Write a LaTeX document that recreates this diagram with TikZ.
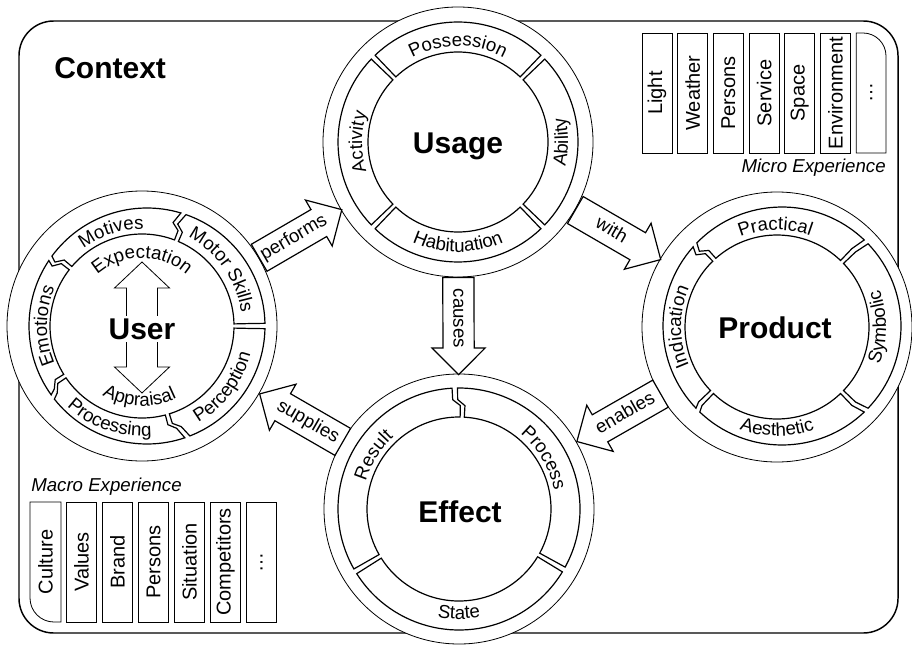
\documentclass[tikz,border=0pt]{standalone}
\usepackage{fontspec}
\setmainfont{Liberation Sans}
\usetikzlibrary{calc,shapes.arrows,decorations.text}

\newcommand{\segfont}{\fontsize{14}{17}\selectfont}
\newcommand{\boxfont}{\fontsize{15}{18}\selectfont}
\newcommand{\titlefont}{\fontsize{22.5}{27}\selectfont\bfseries}
\newcommand{\circR}{101.25pt}

% one piece of a ring: inner centre, outer centre, inner r, outer r, from, to, kink at from, kink at to
\newcommand{\ringseg}[8]{%
  \draw[ringline]
    ([shift={(#2)}]{#5+1.3+2*#7}:#4)
      arc[start angle={#5+1.3+2*#7}, end angle={#6-1.3+2*#8}, radius=#4]
    -- ([shift={(#1)}]{#6-1.3+2*#8}:{(#3+#4)/2+3})
    -- ([shift={(#1)}]{#6-1.3-2*#8}:{(#3+#4)/2-3})
    -- ([shift={(#1)}]{#6-1.3-2*#8}:#3)
      arc[start angle={#6-1.3-2*#8}, end angle={#5+1.3-2*#7}, radius=#3]
    -- ([shift={(#1)}]{#5+1.3-2*#7}:{(#3+#4)/2-3})
    -- ([shift={(#1)}]{#5+1.3+2*#7}:{(#3+#4)/2+3})
    -- cycle;}

% text bent along a ring: centre, radius, from, to, text
\newcommand{\arctext}[5]{%
  \path[decorate, decoration={text along path, text align=center, text={|\segfont|#5}}]
    ([shift={(#1)}]#3:#2) arc[start angle=#3, end angle=#4, radius=#2];}

% block arrow between two circles
\newcommand{\flow}[4][anchor=tail]{%
  \path let \p1=($(#2)!\circR!(#3)$), \p2=($(#3)!\circR!(#2)$),
    \n1={veclen(\x2-\x1,\y2-\y1)} in
    (\p1) -- (\p2) node[pos=0, sloped, flowarrow, minimum height=\n1, #1] {#4};}

\begin{document}
\begin{tikzpicture}[x=0.75pt, y=0.75pt,
  outercircle/.style={circle, draw, fill=white, line width=0.6pt, minimum size=202.5pt, inner sep=0pt},
  ringline/.style={line width=0.9pt},
  title/.style={font=\titlefont, inner sep=2pt},
  microbox/.style={draw, line width=0.6pt, rotate=90, minimum width=90pt, minimum height=22.5pt, inner sep=0pt, font=\boxfont},
  flowarrow/.style={single arrow, draw, fill=white, line width=0.9pt, single arrow head extend=8.25pt,
    inner xsep=0pt, inner ysep=0pt, text height=15pt, text depth=7.5pt, font=\segfont}]
  \useasboundingbox (0,0) rectangle (912,-645);

  % Context frame
  \draw[line width=1.1pt, rounded corners=26pt] (19,-21) rectangle (898,-633);
  \node[anchor=west, inner sep=0pt, font=\titlefont] (context) at (54,-68) {Context};

  % Micro experience
  \foreach \lbl [count=\i] in {Light,Weather,Persons,Service,Space,Environment}
    \node[microbox] (micro\i) at ({657+35.7*(\i-1)},-93) {\lbl};
  \draw[line width=0.6pt] (856.2,-153) -- (856.2,-33) -- (863,-33)
    arc[start angle=90, end angle=0, radius=23] -- (886,-153) -- cycle;
  \node[rotate=90, font=\boxfont] (micro7) at (871.2,-93) {\ldots};
  \node[anchor=east, inner sep=0pt, font=\segfont\itshape] (microlbl) at (886,-168) {Micro Experience};

  % Macro experience
  \node[anchor=west, inner sep=0pt, font=\segfont\itshape] (macrolbl) at (31,-487) {Macro Experience};
  \draw[line width=0.6pt] (30,-502) -- (61,-502) -- (61,-622) -- (54,-622)
    arc[start angle=270, end angle=180, radius=24] -- cycle;
  \node[rotate=90, font=\boxfont] (macro0) at (45.5,-562) {Culture};
  \foreach \lbl [count=\i] in {Values,Brand,Persons,Situation,Competitors,\ldots}
    \node[microbox] (macro\i) at ({45.5+36*\i},-562) {\lbl};

  % The four circles
  \node[outercircle] (user) at (142,-326) {};
  \node[outercircle] (usage) at (458,-142) {};
  \node[outercircle] (product) at (777,-327) {};
  \node[outercircle] (effect) at (459,-509) {};
  \coordinate (userout) at (147,-326);
  \coordinate (productout) at (782,-326);

  % User ring
  \ringseg{user}{userout}{92}{118}{0}{70}{0}{1}
  \ringseg{user}{userout}{92}{118}{70}{143}{1}{1}
  \ringseg{user}{userout}{92}{118}{143}{215}{1}{1}
  \ringseg{user}{userout}{92}{118}{215}{288}{1}{1}
  \ringseg{user}{userout}{92}{118}{288}{360}{1}{0}
  \arctext{user}{100}{65}{5}{Motor Skills}
  \arctext{user}{97}{138}{78}{Motives}
  \arctext{user}{95}{210}{150}{Emotions}
  \arctext{user}{110}{221}{281}{Processing}
  \arctext{user}{112}{293}{353}{Perception}
  \arctext{user}{68}{140}{40}{Expectation}
  \arctext{user}{80}{236}{300}{Appraisal}

  % Usage ring
  \ringseg{usage}{usage}{90}{120}{45}{135}{0}{0}
  \ringseg{usage}{usage}{90}{120}{135}{225}{0}{0}
  \ringseg{usage}{usage}{90}{120}{225}{315}{0}{0}
  \ringseg{usage}{usage}{90}{120}{315}{405}{0}{0}
  \arctext{usage}{96}{130}{50}{Possession}
  \arctext{usage}{96}{220}{140}{Activity}
  \arctext{usage}{110}{230}{310}{Habituation}
  \arctext{usage}{110}{-40}{40}{Ability}

  % Product ring
  \ringseg{product}{productout}{92}{119}{45}{135}{0}{1}
  \ringseg{product}{productout}{92}{119}{135}{225}{1}{0}
  \ringseg{product}{productout}{92}{119}{225}{315}{0}{0}
  \ringseg{product}{productout}{92}{119}{315}{405}{0}{0}
  \arctext{product}{97}{131}{51}{Practical}
  \arctext{product}{96}{220}{140}{Indication}
  \arctext{product}{109}{230}{310}{Aesthetic}
  \arctext{product}{109}{-40}{40}{Symbolic}

  % Effect ring
  \ringseg{effect}{effect}{92}{121}{-30}{90}{0}{1}
  \ringseg{effect}{effect}{92}{121}{90}{211}{1}{0}
  \ringseg{effect}{effect}{92}{121}{211}{330}{0}{0}
  \arctext{effect}{97}{188}{108}{Result}
  \arctext{effect}{97}{71}{-9}{Process}
  \arctext{effect}{110}{230}{310}{State}

  % Block arrows
  \flow{user}{usage}{performs}
  \flow{usage}{product}{with}
  \flow{usage}{effect}{causes}
  \flow[anchor=tip, shape border rotate=180]{user}{effect}{supplies}
  \flow[anchor=tip, shape border rotate=180]{effect}{product}{enables}

  % Expectation / appraisal arrow
  \draw[line width=0.6pt, shift={(user)}] (0,64) -- (27.5,38) -- (15.5,38) -- (15.5,-41)
    -- (27.5,-41) -- (0,-67) -- (-27.5,-41) -- (-15.5,-41) -- (-15.5,38) -- (-27.5,38) -- cycle;

  % Titles
  \node[title, fill=white] (usertitle) at (142,-329) {User};
  \node[title] (usagetitle) at (458,-146) {Usage};
  \node[title] (producttitle) at (775,-328) {Product};
  \node[title] (effecttitle) at (460,-512) {Effect};
\end{tikzpicture}
\end{document}
